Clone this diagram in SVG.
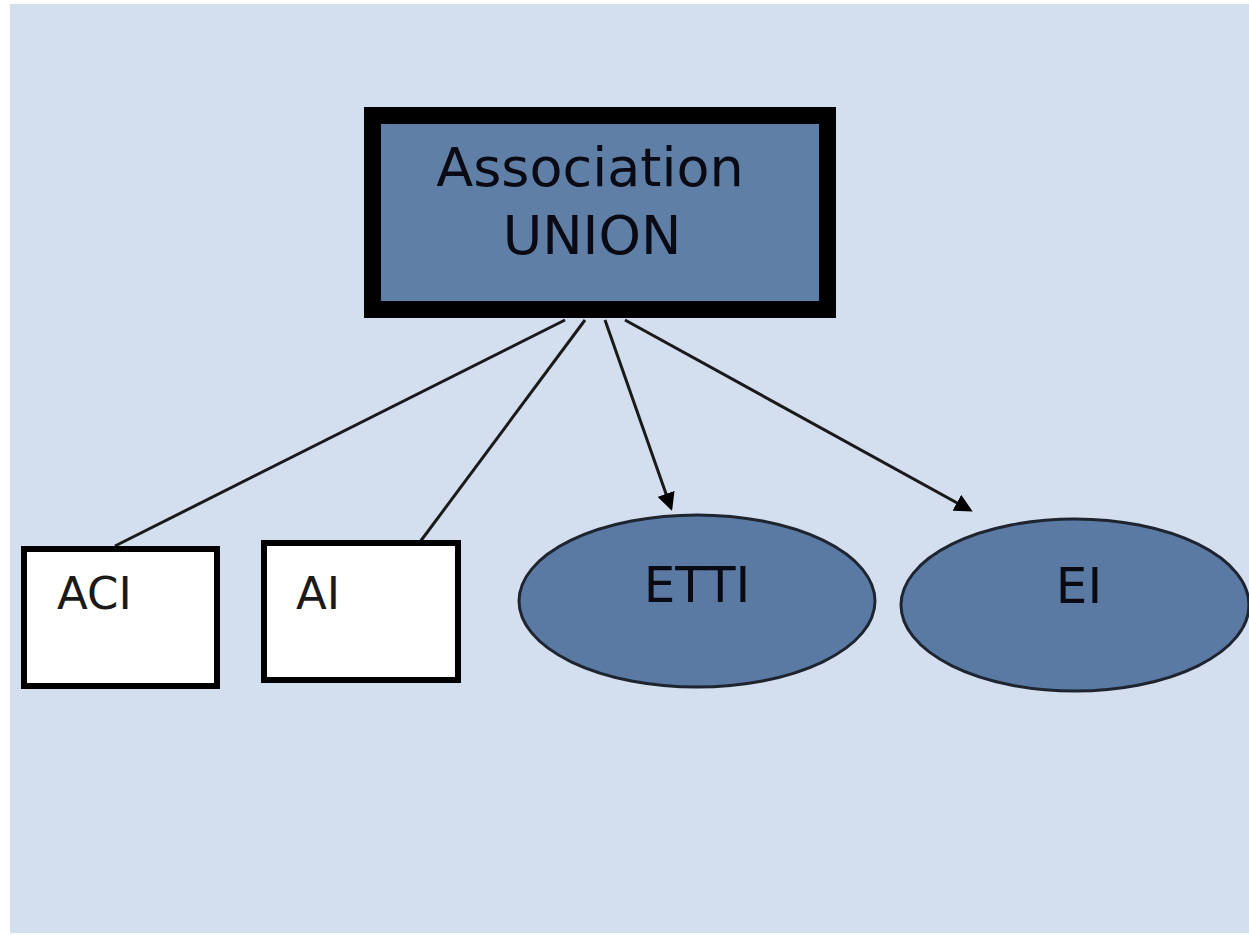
<svg xmlns="http://www.w3.org/2000/svg" width="1249" height="935" viewBox="0 0 1249 935">
<style>
.bg{fill:#d3dfee}
.main{fill:#5f7fa6;stroke:#000;stroke-width:17}
.box{fill:#fff;stroke:#000;stroke-width:6}
.ell{fill:#5a7aa3;stroke:#1e2530;stroke-width:3}
.t{font-family:"DejaVu Sans",sans-serif;text-anchor:middle;fill:#0a0a14}
.tl{font-family:"DejaVu Sans",sans-serif;fill:#1a1a1a}
.edge{stroke:#1a1a1a;stroke-width:3;fill:none}
</style>
<defs>
<marker id="arr" markerWidth="6" markerHeight="6" refX="5" refY="3" orient="auto" markerUnits="strokeWidth">
<path d="M0,0 L6,3 L0,6 z" fill="#000"/>
</marker>
</defs>
<rect x="0" y="0" width="1249" height="935" fill="#fff"/>
<rect class="bg" x="10" y="4" width="1239" height="929"/>
<g id="connectors">
<line class="edge" x1="565" y1="320" x2="115" y2="546"/>
<line class="edge" x1="585" y1="320" x2="420" y2="542"/>
<line class="edge" x1="605" y1="320" x2="671" y2="508" marker-end="url(#arr)"/>
<line class="edge" x1="625" y1="320" x2="970" y2="510" marker-end="url(#arr)"/>
</g>
<g id="association">
<rect class="main" x="372.5" y="115.5" width="455" height="194"/>
<text class="t" x="590" y="186" font-size="54">Association</text>
<text class="t" x="592" y="254" font-size="54">UNION</text>
</g>
<g id="aci">
<rect class="box" x="24" y="549" width="193" height="137"/>
<text class="tl" x="57" y="609" font-size="45">ACI</text>
</g>
<g id="ai">
<rect class="box" x="264" y="543" width="194" height="137"/>
<text class="tl" x="296" y="609" font-size="45">AI</text>
</g>
<g id="etti">
<ellipse class="ell" cx="697" cy="601" rx="178" ry="86"/>
<text class="t" x="697" y="602" font-size="50">ETTI</text>
</g>
<g id="ei">
<ellipse class="ell" cx="1075" cy="605" rx="174" ry="86"/>
<text class="t" x="1079" y="603" font-size="50">EI</text>
</g>
</svg>
